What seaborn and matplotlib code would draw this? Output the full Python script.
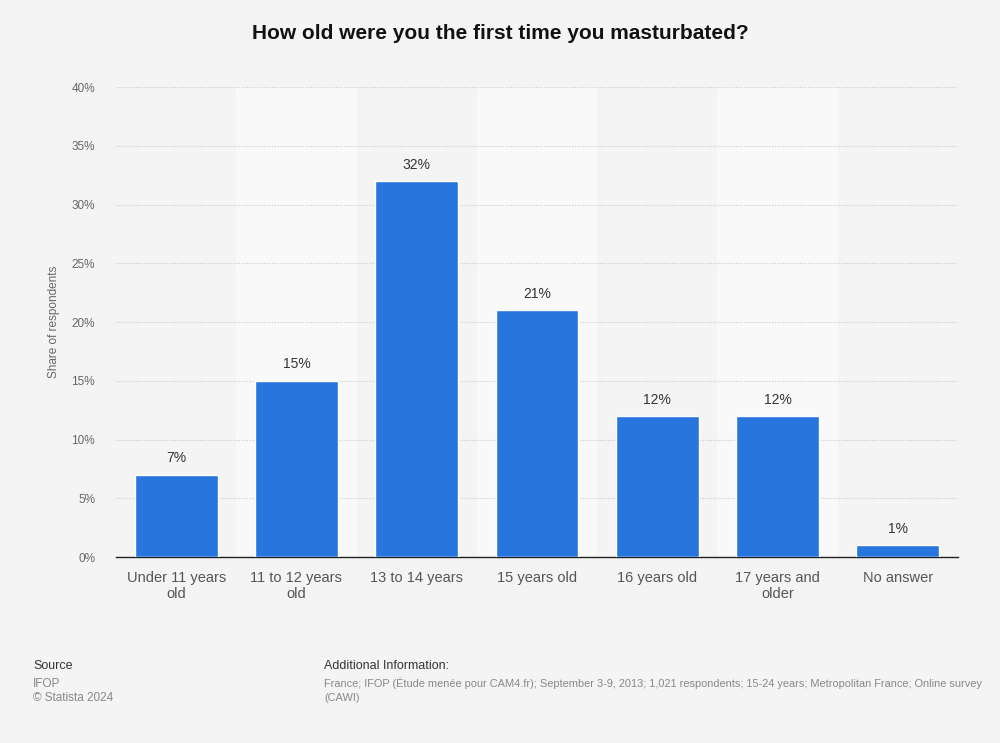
import matplotlib
matplotlib.use("Agg")
import matplotlib.pyplot as plt
import seaborn as sns
import pandas as pd

categories = ["Under 11 years\nold", "11 to 12 years\nold", "13 to 14 years", "15 years old",
              "16 years old", "17 years and\nolder", "No answer"]
values = [7, 15, 32, 21, 12, 12, 1]
yticks = [0, 5, 10, 15, 20, 25, 30, 35, 40]

sns.set_theme(style="white")
plt.rcParams['font.family'] = ['Liberation Sans', 'DejaVu Sans']

bg = "#f4f4f4"
fig = plt.figure(figsize=(10, 7.43), dpi=100, facecolor=bg)
ax = fig.add_axes([0.116, 0.2503, 0.842, 0.6326])
ax.set_facecolor(bg)

df = pd.DataFrame({"cat": categories, "val": values})
for i in range(len(categories)):
    if i % 2 == 1:
        ax.axvspan(i - 0.5, i + 0.5, color="#f9f9f9", zorder=0, lw=0)

sns.barplot(data=df, x="cat", y="val", color="#2876dd", saturation=1, width=0.69, ax=ax, zorder=3)

ax.set_xlim(-0.5, len(categories) - 0.5)
ax.set_ylim(0, 40)
ax.set_yticks(yticks)
ax.set_yticklabels([f"{t}%" for t in yticks], fontsize=8.5, color="#666666")
ax.tick_params(axis="y", length=0, pad=15)
ax.tick_params(axis="x", length=0, pad=10, labelsize=10.5, labelcolor="#555555")
ax.yaxis.grid(True, linestyle=(0, (1, 1.5)), color="#c8c8c8", linewidth=0.8, zorder=1)
ax.set_axisbelow(True)
for s in ["top", "right", "left"]:
    ax.spines[s].set_visible(False)
ax.spines["bottom"].set_color("#222222")
ax.spines["bottom"].set_linewidth(1)
ax.set_xlabel("")
ax.set_ylabel("Share of respondents", fontsize=8.5, color="#666666", labelpad=8)

for i, v in enumerate(values):
    ax.text(i, v + 0.8, f"{v}%", ha="center", va="bottom", fontsize=10, color="#333333", zorder=4)

fig.text(0.5, 0.955, "How old were you the first time you masturbated?", ha="center", va="center",
         fontsize=15, fontweight="bold", color="#111111")

fig.text(0.033, 0.104, "Source", fontsize=9, color="#333333", va="center")
fig.text(0.033, 0.080, "IFOP", fontsize=8.5, color="#888888", va="center")
fig.text(0.033, 0.060, "© Statista 2024", fontsize=8.5, color="#888888", va="center")
fig.text(0.324, 0.104, "Additional Information:", fontsize=9, color="#333333", va="center")
fig.text(0.324, 0.080, "France; IFOP (Étude menée pour CAM4.fr); September 3-9, 2013; 1,021 respondents; 15-24 years; Metropolitan France; Online survey",
         fontsize=7.9, color="#888888", va="center")
fig.text(0.324, 0.060, "(CAWI)", fontsize=7.9, color="#888888", va="center")

fig.savefig("out.png", dpi=100, facecolor=bg)
